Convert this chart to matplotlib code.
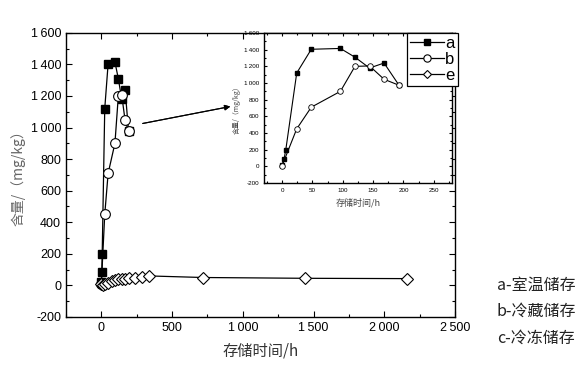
import numpy as np
import matplotlib
matplotlib.use('Agg')
import matplotlib.pyplot as plt
from matplotlib.ticker import MultipleLocator, FuncFormatter

plt.rcParams['font.family'] = ['Liberation Sans', 'Noto Sans CJK SC', 'DejaVu Sans']

# a - room temperature, b - refrigerated, e - frozen
ta = [0, 3, 6, 24, 48, 96, 120, 144, 168, 192]
ya = [20, 85, 200, 1120, 1405, 1415, 1310, 1180, 1240, 980]

tb = [0, 24, 48, 96, 120, 144, 168, 192]
yb = [10, 450, 710, 900, 1200, 1205, 1045, 975]

te = [0, 12, 24, 48, 72, 96, 120, 144, 168, 192, 240, 288, 336, 720, 1440, 2160]
ye = [10, 5, 8, 15, 27, 32, 38, 40, 42, 45, 48, 55, 60, 50, 45, 43]

labels = ['a', 'b', 'e']
notes = ['a-室温储存', 'b-冷藏储存', 'c-冷冻储存']

cjk = ['Noto Sans CJK SC', 'DejaVu Sans']


def fmt(v, pos):
    v = int(round(v))
    s = '{:,}'.format(v).replace(',', '\u2009')
    return s


def style(ax, size, majlen, minlen):
    ax.tick_params(which='both', direction='in', top=True, right=True,
                   labelsize=size, width=0.8)
    ax.tick_params(which='major', length=majlen)
    ax.tick_params(which='minor', length=minlen)
    ax.xaxis.set_major_formatter(FuncFormatter(fmt))
    ax.yaxis.set_major_formatter(FuncFormatter(fmt))
    for s in ax.spines.values():
        s.set_linewidth(1.0)


fig = plt.figure(figsize=(5.84, 3.69), dpi=100)

# main axes
ax = fig.add_axes([0.113, 0.141, 0.666, 0.770])
la, = ax.plot(ta, ya, '-', color='black', lw=0.9, marker='s', ms=6,
              mfc='black', mec='black')
lb, = ax.plot(tb, yb, '-', color='black', lw=0.9, marker='o', ms=7,
              mfc='white', mec='black', mew=0.8)
le, = ax.plot(te, ye, '-', color='black', lw=0.9, marker='D', ms=6,
              mfc='white', mec='black', mew=0.8)
ax.set_xlim(-250, 2500)
ax.set_ylim(-200, 1600)
ax.xaxis.set_major_locator(MultipleLocator(500))
ax.xaxis.set_minor_locator(MultipleLocator(250))
ax.yaxis.set_major_locator(MultipleLocator(200))
ax.yaxis.set_minor_locator(MultipleLocator(100))
style(ax, 9, 4, 2.5)
ax.set_xlabel('存储时间/h', family=cjk, fontsize=11, color='#333333', labelpad=6)
ax.set_ylabel('含量/（mg/kg）', family=cjk, fontsize=10, color='#666666', labelpad=4)

# inset
ins = fig.add_axes([0.452, 0.504, 0.322, 0.4065])
ins.plot(ta, ya, '-', color='black', lw=0.8, marker='s', ms=3.5,
         mfc='black', mec='black')
ins.plot(tb, yb, '-', color='black', lw=0.8, marker='o', ms=4,
         mfc='white', mec='black', mew=0.6)
ins.set_xlim(-30, 280)
ins.set_ylim(-200, 1600)
ins.xaxis.set_major_locator(MultipleLocator(50))
ins.xaxis.set_minor_locator(MultipleLocator(25))
ins.yaxis.set_major_locator(MultipleLocator(200))
ins.yaxis.set_minor_locator(MultipleLocator(100))
style(ins, 4.5, 2.5, 1.5)
ins.set_xlabel('存储时间/h', family=cjk, fontsize=6.5, color='#444444', labelpad=4)
ins.set_ylabel('含量/（mg/kg）', family=cjk, fontsize=5, color='#444444', labelpad=2)

leg = ins.legend([la, lb, le], labels, loc='upper right',
                 bbox_to_anchor=(458 / 584, 1 - 33 / 369),
                 bbox_transform=fig.transFigure, fontsize=12,
                 handlelength=2.0, handletextpad=0.1, labelspacing=0.05,
                 borderpad=0.2, borderaxespad=0, fancybox=False,
                 framealpha=1, markerscale=0.75)
leg.get_frame().set_edgecolor('black')
leg.get_frame().set_linewidth(0.9)

# arrow from main curves to inset
fig.add_artist(plt.annotate('', xy=(233 / 584, 1 - 106 / 369),
                            xytext=(140 / 584, 1 - 124 / 369),
                            xycoords='figure fraction',
                            textcoords='figure fraction',
                            arrowprops=dict(arrowstyle='-|>', color='black',
                                            lw=0.8, mutation_scale=8)))

# side notes
for i, n in enumerate(notes):
    fig.text(497 / 584, 1 - (285 + 26.5 * i) / 369, n, family=cjk,
             fontsize=11.5, va='center', ha='left', color='#222222')

fig.savefig('out.png', dpi=100)
